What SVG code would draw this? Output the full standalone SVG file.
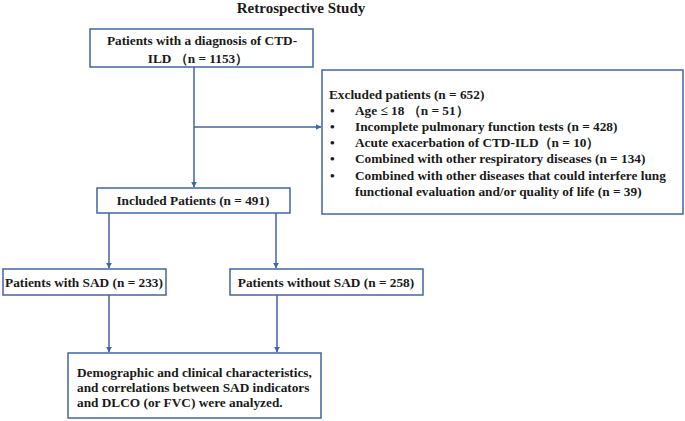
<svg xmlns="http://www.w3.org/2000/svg" width="685" height="421" viewBox="0 0 685 421">
<defs>
<style>
text{font-family:"Liberation Serif","Times New Roman",serif;font-weight:bold;font-size:13.3px;fill:#1a1a1a}
.box{fill:#fff;stroke:#4464a4;stroke-width:1.5}
.ln{fill:none;stroke:#4464a4;stroke-width:1.5}
.c{text-anchor:middle}
</style>
<marker id="ah" viewBox="0 0 10 10" refX="9" refY="5" markerWidth="6" markerHeight="6" orient="auto" markerUnits="userSpaceOnUse">
<path d="M0,0 L10,5 L0,10 z" fill="#4464a4"/>
</marker>
</defs>
<rect width="685" height="421" fill="#fff"/>
<text x="301" y="13" class="c" style="font-size:15px">Retrospective Study</text>
<g id="connectors">
<path class="ln" d="M194,67 V187" marker-end="url(#ah)"/>
<path class="ln" d="M194,127 H321" marker-end="url(#ah)"/>
<path class="ln" d="M109,213 V268" marker-end="url(#ah)"/>
<path class="ln" d="M276,213 V268" marker-end="url(#ah)"/>
<path class="ln" d="M109,295 V352" marker-end="url(#ah)"/>
<path class="ln" d="M277,295 V352" marker-end="url(#ah)"/>
</g>
<g id="diagnosis">
<rect class="box" x="90" y="29" width="223" height="38"/>
<text x="202" y="45" class="c">Patients with a diagnosis of CTD-</text>
<text x="198" y="63" class="c">ILD （n = 1153）</text>
</g>
<g id="excluded">
<rect class="box" x="322" y="70" width="361" height="144"/>
<text x="329" y="99">Excluded patients (n = 652)</text>
<text x="330" y="115">•</text><text x="355" y="115">Age ≤ 18 （n = 51）</text>
<text x="330" y="131">•</text><text x="355" y="131">Incomplete pulmonary function tests (n = 428)</text>
<text x="330" y="147">•</text><text x="355" y="147">Acute exacerbation of CTD-ILD（n = 10）</text>
<text x="330" y="163">•</text><text x="355" y="163">Combined with other respiratory diseases (n = 134)</text>
<text x="330" y="180">•</text><text x="355" y="180">Combined with other diseases that could interfere lung</text>
<text x="355" y="196">functional evaluation and/or quality of life (n = 39)</text>
</g>
<g id="included">
<rect class="box" x="97" y="188" width="193" height="25"/>
<text x="193" y="205" class="c">Included Patients (n = 491)</text>
</g>
<g id="with-sad">
<rect class="box" x="3" y="269" width="163" height="26"/>
<text x="84" y="287" class="c">Patients with SAD (n = 233)</text>
</g>
<g id="without-sad">
<rect class="box" x="230" y="269" width="193" height="26"/>
<text x="326" y="287" class="c">Patients without SAD (n = 258)</text>
</g>
<g id="analysis">
<rect class="box" x="68" y="353" width="253" height="65"/>
<text x="77" y="377">Demographic and clinical characteristics,</text>
<text x="77" y="392">and correlations between SAD indicators</text>
<text x="77" y="407">and DLCO (or FVC) were analyzed.</text>
</g>
</svg>
